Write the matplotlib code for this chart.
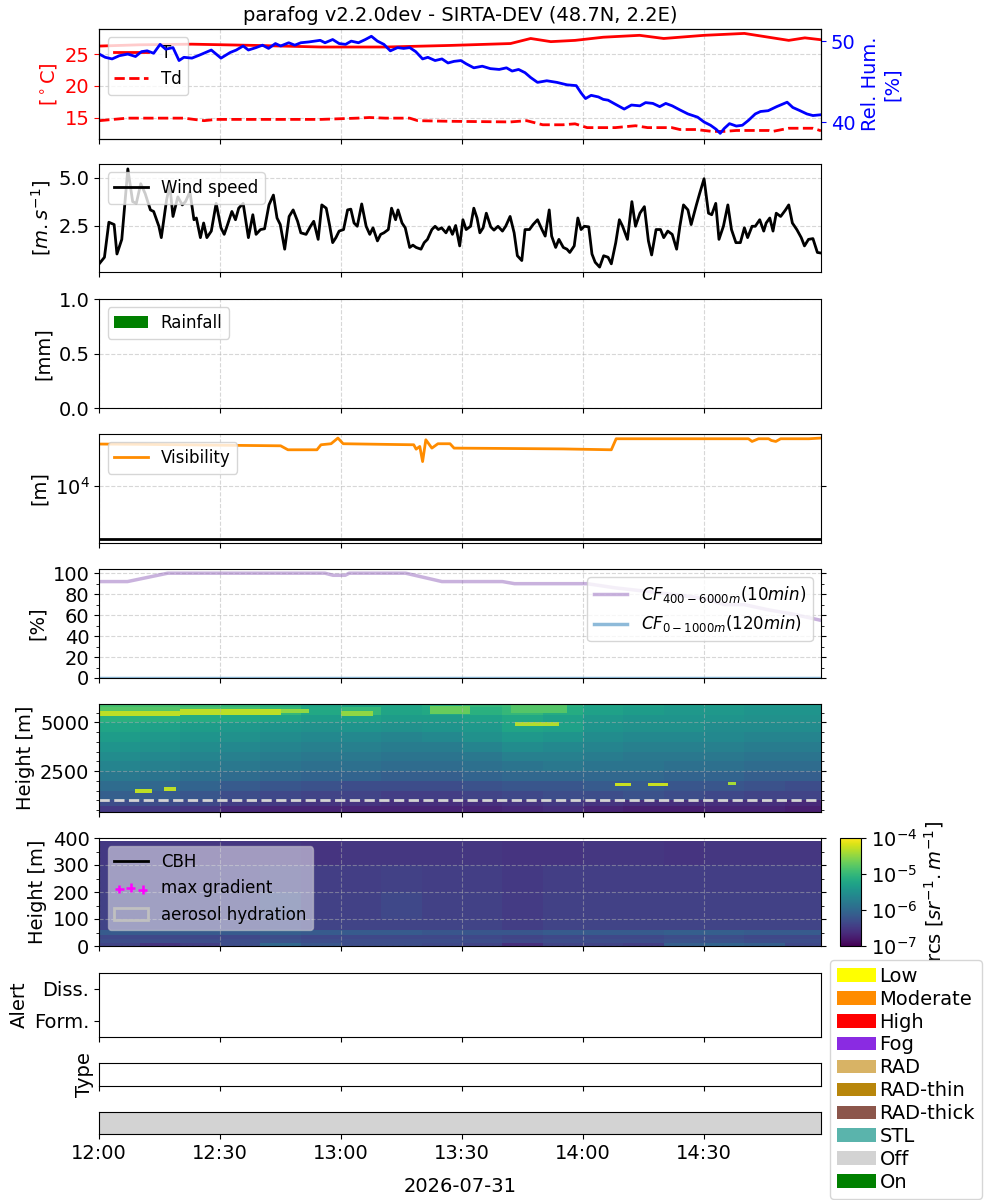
import numpy as np
import pandas as pd
import matplotlib
matplotlib.use("Agg")
import matplotlib.pyplot as plt
import matplotlib.dates as mdates
from matplotlib.colors import LogNorm
from matplotlib.patches import Patch
from matplotlib.ticker import MultipleLocator, NullLocator

plt.rcParams['font.family'] = ['DejaVu Sans']
plt.rcParams['font.size'] = 14

# ---------------------------------------------------------------- data
DAY = "2026-07-31"
TITLE = "parafog v2.2.0dev - SIRTA-DEV (48.7N, 2.2E)"
T_END = 179  # minutes after 12:00

# temperature [degC]
T_min = [0, 10, 23, 39, 55, 71, 87, 102, 107, 112, 118, 125, 134, 140, 150, 160, 166, 171, 175, 179]
T_val = [26.3, 26.5, 26.6, 26.4, 26.15, 26.15, 26.4, 26.7, 27.5, 27.0, 27.2, 27.7, 28.0, 27.5, 28.0, 28.3, 27.7, 27.2, 27.6, 27.3]

# dew point [degC]
Td_min = [0, 7, 21, 26, 29, 55, 64, 67, 71, 77, 79, 87, 102, 106, 110, 115, 118, 121, 128, 133, 136,
          142, 144, 148, 152, 155, 158, 166, 167, 171, 177, 179]
Td_val = [14.5, 14.9, 14.9, 14.5, 14.7, 14.7, 14.9, 15.0, 14.9, 14.9, 14.5, 14.4, 14.3, 14.5, 13.85, 13.85,
          14.0, 13.4, 13.4, 13.7, 13.4, 13.4, 13.1, 13.1, 12.8, 12.8, 12.95, 12.95, 12.8, 13.3, 13.3, 12.9]

# relative humidity [%]
RH_min = [0, 1.5, 3.2, 5, 7.1, 9, 10.5, 11.9, 13.5, 15.1, 16.5, 18.3, 19.8, 21, 23.0, 25, 27.8, 29, 30.2,
          32.5, 34, 35.7, 37, 38.9, 40.5, 42, 43.7, 45, 47, 48.5, 50.0, 52, 54.8, 56, 57.9,
          59.5, 61.1, 62.5, 64.3, 66, 67.5, 69, 70.6, 72.2, 74, 75.5, 77.0, 78.5, 80.2, 81.5, 83.3, 85, 86.5,
          88, 89.7, 91, 92.9, 95, 97, 99.2, 101, 102.4, 104, 105.6, 107, 108.7, 111, 113.5,
          116, 118.3, 119.5, 120.6, 122, 123.8, 125, 126.2, 128, 130.2, 132, 134.1, 135.5, 137.3, 139, 140.5,
          142.1, 144, 146.0, 148.4, 150, 151.6, 153, 154.0, 155, 156.3, 158, 159.5,
          161, 162.7, 164, 165.9, 168, 170.6, 172, 173.8, 175.5, 177.0, 179]
RH_val = [48.4, 48.0, 47.8, 48.2, 48.4, 48.1, 48.7, 48.8, 48.5, 49.6, 49.0, 49.2, 47.6, 48.0, 47.9, 48.3,
          48.9, 48.4, 47.9, 48.6, 48.9, 49.4, 48.9, 49.2, 49.5, 49.1, 49.7, 49.4, 49.8, 49.5, 49.8, 49.9,
          50.1, 49.8, 50.2, 49.7, 49.6, 50.0, 49.8, 50.2, 50.6, 50.0, 49.6, 48.8, 49.2, 49.1, 49.2, 48.7,
          47.8, 48.0, 47.6, 47.8, 47.3, 47.5, 47.6, 47.2, 46.7, 46.9, 46.6, 46.5, 46.7, 46.3, 46.5, 46.1,
          45.5, 44.9, 45.1, 44.9, 44.6, 44.5, 43.6, 42.9, 43.3, 43.1, 42.8, 42.7, 42.2, 41.6, 42.1, 42.0,
          42.4, 42.3, 41.9, 42.3, 42.0, 41.5, 41.0, 40.6, 40.0, 39.6, 39.1, 38.6, 39.2, 39.8, 39.5, 39.6,
          40.2, 41.0, 41.3, 41.4, 41.9, 42.45, 41.8, 41.4, 41.0, 40.8, 40.9]

# wind speed [m/s]
wind_min = [0, 1.3, 2.4, 3.7, 4.4, 5.6, 7.1, 8.3, 9.2, 10.3, 11.4, 12.7, 13.5, 14.8, 15.4, 16.7, 17.5, 18.3,
            19.5, 20.6, 21.4, 22.5, 23.5, 24.1, 25.1, 25.9, 26.7, 27.8, 29.0, 30.2, 31.0, 31.7, 32.9, 33.8,
            34.6, 35.7, 37.0, 38.1, 38.9, 40.0, 41.0, 42.1, 43.2, 44.1, 44.9, 46.0, 47.1, 48.1, 49.2, 50.0,
            51.3, 52.4, 53.2, 54.3, 55.2, 56.3, 57.1, 57.9, 58.7, 59.5, 60.6, 61.6, 62.4, 63.2, 64.0, 65.1,
            66.2, 67.1, 67.9, 69.0, 69.8, 70.6, 71.7, 72.5, 73.5, 74.1, 75.1, 75.9, 77.0, 77.8, 78.6, 79.8,
            80.6, 81.4, 82.5, 83.3, 84.1, 84.9, 86.0, 86.8, 87.6, 88.4, 89.4, 90.2, 91.0, 92.1, 92.9, 93.7,
            94.4, 95.2, 96.0, 97.1, 97.9, 98.9, 100.0, 100.8, 101.9, 102.9, 103.7, 104.8, 105.6, 106.7,
            107.6, 108.7, 109.8, 110.6, 111.6, 112.2, 113.2, 114.0, 115.1, 116.0, 116.7, 117.8, 118.7,
            119.5, 120.3, 121.4, 122.2, 123.0, 124.1, 125.1, 126.2, 127.0, 128.1, 129.0, 129.8, 131.0,
            132.1, 133.0, 134.1, 135.2, 136.2, 137.0, 138.1, 139.2, 140.0, 141.0, 142.1, 143.2, 144.0,
            144.9, 146.0, 146.8, 148.1, 148.9, 150.0, 151.1, 151.9, 152.9, 153.7, 154.8, 155.9, 156.8,
            157.9, 159.0, 160.0, 160.8, 161.9, 162.7, 163.8, 164.8, 165.4, 166.3, 167.1, 167.9, 169.0,
            170.2, 171.0, 171.9, 173.0, 174.1, 174.9, 175.9, 177.0, 178.1, 179.0]
wind_val = [0.53, 0.87, 2.69, 2.57, 1.04, 1.80, 5.46, 3.76, 3.67, 4.69, 4.18, 3.33, 3.25, 2.48, 1.89, 3.84,
            4.61, 2.99, 4.01, 3.59, 3.76, 4.27, 2.82, 2.91, 1.89, 2.65, 1.89, 2.23, 3.67, 2.40, 2.06, 2.48,
            3.25, 2.82, 3.42, 3.67, 1.89, 3.08, 2.06, 2.31, 2.35, 3.59, 4.10, 2.91, 2.57, 1.29, 2.99, 3.33,
            2.74, 2.14, 2.06, 2.48, 2.74, 1.80, 3.59, 3.42, 2.57, 1.63, 1.89, 2.23, 2.31, 3.33, 3.37, 2.65,
            2.48, 3.64, 2.48, 2.06, 2.40, 1.72, 2.06, 2.14, 2.31, 3.42, 2.82, 3.33, 2.65, 2.40, 1.38, 1.50,
            1.38, 1.29, 1.63, 1.80, 2.31, 2.48, 2.31, 2.40, 2.14, 2.45, 2.06, 2.52, 1.46, 2.82, 2.31, 2.48,
            3.42, 2.91, 2.14, 2.40, 3.16, 2.45, 2.28, 2.48, 2.23, 2.48, 2.99, 2.14, 0.95, 0.70, 2.31, 2.31,
            2.57, 2.82, 2.31, 1.97, 3.33, 1.97, 1.38, 1.80, 1.38, 1.29, 1.12, 1.46, 2.91, 2.31, 2.48, 2.45,
            1.04, 0.61, 0.36, 0.95, 0.87, 0.53, 1.63, 2.82, 2.48, 1.80, 3.76, 2.48, 3.16, 3.50, 1.72, 0.99,
            2.31, 2.31, 1.89, 2.23, 2.06, 1.29, 2.48, 3.59, 3.33, 2.57, 3.59, 4.18, 4.95, 3.16, 3.08, 3.67,
            1.80, 2.48, 3.59, 2.31, 1.63, 1.63, 2.40, 1.89, 2.48, 2.48, 2.82, 2.23, 2.65, 2.91, 2.23, 3.16,
            2.99, 3.33, 3.59, 2.65, 2.31, 1.89, 1.46, 1.80, 1.84, 1.12, 1.09]

# rainfall [mm] per 10 min
rain_min = [0, 10, 20, 30, 40, 50, 60, 70, 80, 90, 100, 110, 120, 130, 140, 150, 160, 170]
rain_val = [0.0, 0.0, 0.0, 0.0, 0.0, 0.0, 0.0, 0.0, 0.0, 0.0, 0.0, 0.0, 0.0, 0.0, 0.0, 0.0, 0.0, 0.0]

# visibility [m]
vis_min = [0, 10, 20, 30, 45, 46.8, 54, 55, 57.5, 59.2, 60.5, 70, 78, 78.6, 79.5, 80.2, 81, 82.5, 84, 87, 88,
           100, 115, 127, 128.2, 161, 161.9, 163.5, 166, 166.7, 167.8, 169, 176, 179]
vis_val = [17260, 17200, 17100, 17000, 16870, 16020, 16020, 17100, 17330, 18660, 17330, 17200, 17100, 16150,
           16730, 13740, 18250, 16370, 17330, 17330, 16370, 16300, 16200, 16020, 18490, 18490, 17850, 18490,
           18490, 18080, 17850, 18490, 18490, 18660]
VIS_THRESHOLD = 5000

# cloud fraction [%]
cf_hi_min = [0, 7, 17, 56, 58, 61, 62, 76, 85, 100, 103, 121, 128, 135, 146, 150, 155, 160, 166, 172, 179]
cf_hi_val = [92, 92, 100, 100, 98, 98, 100, 100, 92, 92, 90, 90, 86, 83, 78, 76, 70, 70, 65, 61, 55]
cf_lo_min = [0, 179]
cf_lo_val = [0, 0]

# lidar rcs, upper panel (400-5950 m), log10 values, rows bottom -> top, 10-min columns
up_h_edges = [400, 700, 1000, 1500, 2000, 2500, 3000, 3500, 4000, 4500, 5000, 5400, 5800, 5950]
up_t_edges = [0, 10, 20, 30, 40, 50, 60, 70, 80, 90, 100, 110, 120, 130, 140, 150, 160, 170, 180]
up_log_rcs = [
    [-6.5, -6.5, -6.55, -6.65, -6.7, -6.7, -6.7, -6.7, -6.7, -6.7, -6.65, -6.6, -6.7, -6.75, -6.75, -6.7, -6.7, -6.75],
    [-6.3, -6.3, -6.35, -6.45, -6.5, -6.55, -6.55, -6.6, -6.6, -6.6, -6.55, -6.5, -6.55, -6.6, -6.6, -6.6, -6.6, -6.65],
    [-6.1, -6.15, -6.2, -6.3, -6.35, -6.4, -6.4, -6.45, -6.45, -6.4, -6.35, -6.3, -6.3, -6.25, -6.3, -6.35, -6.4, -6.4],
    [-5.95, -6.0, -6.05, -6.15, -6.2, -6.25, -6.3, -6.3, -6.3, -6.25, -6.2, -6.2, -6.15, -6.15, -6.2, -6.2, -6.25, -6.3],
    [-5.8, -5.85, -5.9, -5.95, -6.0, -6.05, -6.05, -6.1, -6.1, -6.05, -6.0, -6.0, -6.0, -6.0, -6.05, -6.05, -6.1, -6.1],
    [-5.65, -5.7, -5.75, -5.8, -5.85, -5.9, -5.9, -5.95, -5.95, -5.9, -5.85, -5.8, -5.85, -5.85, -5.9, -5.9, -5.95, -5.95],
    [-5.55, -5.6, -5.65, -5.7, -5.75, -5.8, -5.8, -5.85, -5.85, -5.8, -5.7, -5.7, -5.75, -5.8, -5.8, -5.8, -5.85, -5.85],
    [-5.45, -5.5, -5.55, -5.6, -5.65, -5.7, -5.7, -5.75, -5.75, -5.65, -5.55, -5.6, -5.65, -5.7, -5.7, -5.7, -5.75, -5.75],
    [-5.35, -5.4, -5.45, -5.5, -5.55, -5.6, -5.6, -5.65, -5.6, -5.5, -5.4, -5.45, -5.55, -5.6, -5.6, -5.6, -5.65, -5.65],
    [-5.25, -5.3, -5.35, -5.4, -5.45, -5.5, -5.45, -5.5, -5.45, -5.4, -5.25, -5.3, -5.45, -5.5, -5.5, -5.55, -5.55, -5.55],
    [-5.1, -5.1, -5.15, -5.2, -5.25, -5.35, -5.3, -5.35, -5.35, -5.3, -5.2, -5.3, -5.4, -5.45, -5.45, -5.45, -5.5, -5.5],
    [-4.8, -4.8, -4.85, -4.9, -5.0, -5.2, -5.0, -5.25, -5.2, -5.1, -5.0, -5.15, -5.3, -5.35, -5.4, -5.4, -5.45, -5.45],
    [-4.9, -4.9, -4.95, -5.0, -5.1, -5.25, -5.25, -5.25, -5.15, -5.0, -4.95, -5.1, -5.25, -5.3, -5.35, -5.35, -5.4, -5.4],
]
# strong backscatter layers: (start min, end min, base m, top m, log10 rcs)
layer_start = [0, 20, 45, 60, 82, 102, 103, 9.5, 16, 128.5, 136.5, 156.5]
layer_end = [20, 45, 52, 68, 92, 116, 114, 13.5, 19, 132.5, 141, 158.5]
layer_base = [5350, 5400, 5500, 5350, 5450, 5500, 4800, 1400, 1500, 1730, 1760, 1800]
layer_top = [5600, 5700, 5700, 5600, 5850, 5900, 5050, 1600, 1700, 1900, 1900, 1950]
layer_log = [-4.3, -4.3, -4.5, -4.5, -4.7, -4.8, -4.35, -4.3, -4.3, -4.25, -4.25, -4.4]

# lidar rcs, lower panel (0-390 m)
lo_h_edges = [0, 10, 25, 40, 60, 100, 200, 300, 390]
lo_t_edges = up_t_edges
lo_log_rcs = [
    [-6.4, -6.55, -6.45, -6.3, -6.0, -6.2, -6.3, -6.3, -6.35, -6.4, -6.6, -6.4, -6.4, -6.45, -6.1, -6.05, -6.1, -6.35],
    [-6.3, -6.3, -6.3, -6.3, -6.25, -6.3, -6.3, -6.3, -6.3, -6.3, -6.35, -6.3, -6.3, -6.3, -6.25, -6.25, -6.3, -6.3],
    [-6.35, -6.35, -6.35, -6.35, -6.3, -6.35, -6.35, -6.35, -6.35, -6.35, -6.4, -6.35, -6.35, -6.35, -6.3, -6.3, -6.35, -6.35],
    [-6.15, -6.15, -6.15, -6.15, -6.1, -6.15, -6.15, -6.15, -6.2, -6.2, -6.2, -6.15, -6.15, -6.15, -6.1, -6.1, -6.15, -6.15],
    [-6.4, -6.4, -6.4, -6.4, -6.35, -6.4, -6.4, -6.4, -6.4, -6.4, -6.45, -6.4, -6.4, -6.4, -6.4, -6.4, -6.4, -6.4],
    [-6.42, -6.42, -6.42, -6.42, -6.3, -6.42, -6.42, -6.35, -6.42, -6.42, -6.48, -6.42, -6.42, -6.42, -6.42, -6.42, -6.42, -6.42],
    [-6.45, -6.45, -6.45, -6.45, -6.42, -6.45, -6.45, -6.42, -6.45, -6.45, -6.5, -6.45, -6.45, -6.45, -6.45, -6.45, -6.45, -6.45],
    [-6.5, -6.5, -6.52, -6.52, -6.52, -6.55, -6.52, -6.52, -6.52, -6.52, -6.55, -6.55, -6.52, -6.52, -6.55, -6.52, -6.52, -6.52],
]

# fog product states
state_start = [0]
state_end = [179]
state_name = ["Off"]

legend_labels = ["Low", "Moderate", "High", "Fog", "RAD", "RAD-thin", "RAD-thick", "STL", "Off", "On"]
legend_colors = ["yellow", "darkorange", "red", "blueviolet", "#d8b365", "darkgoldenrod", "#8c564b",
                 "#5ab4ac", "lightgray", "green"]

# ---------------------------------------------------------------- helpers
T0 = pd.Timestamp(DAY + " 12:00")


def tt(minutes):
    return mdates.date2num(T0 + pd.to_timedelta(np.asarray(minutes, dtype=float), unit="min"))


fig = plt.figure(figsize=(10, 12), dpi=100)
H = 1200.0
LEFT, WIDTH = 0.0992, 0.7218


def ax_at(top_px, bot_px, **kw):
    return fig.add_axes([LEFT, 1 - bot_px / H, WIDTH, (bot_px - top_px) / H], **kw)


ax_t = ax_at(29, 139)
ax_w = ax_at(164, 272, sharex=ax_t)
ax_r = ax_at(299, 408, sharex=ax_t)
ax_v = ax_at(434, 543, sharex=ax_t)
ax_c = ax_at(569, 678, sharex=ax_t)
ax_hu = ax_at(704, 812, sharex=ax_t)
ax_hl = ax_at(838, 946, sharex=ax_t)
ax_a = ax_at(973, 1037, sharex=ax_t)
ax_ty = ax_at(1063, 1086, sharex=ax_t)
ax_s = ax_at(1112, 1134, sharex=ax_t)
cax = fig.add_axes([0.840, 1 - 946 / H, 0.021, 108 / H])

GRID = dict(linestyle='--', linewidth=0.8, alpha=0.5)
LEG = dict(fontsize=12)

# temperature / humidity
ax_t.plot(tt(T_min), T_val, color='red', lw=2, label='T')
ax_t.plot(tt(Td_min), Td_val, color='red', lw=2, ls='--', label='Td')
ax_t.set_ylim(11.6, 29.0)
ax_t.yaxis.set_major_locator(MultipleLocator(5))
ax_t.set_ylabel(r'[$^\circ$C]', color='red')
ax_t.tick_params(axis='y', colors='red')
ax_t.grid(True, **GRID)
ax_t.legend(loc='upper left', **LEG)
ax_t.set_title(TITLE, fontsize=14)
ax_rh = ax_t.twinx()
ax_rh.plot(tt(RH_min), RH_val, color='blue', lw=2)
ax_rh.set_ylim(37.9, 51.5)
ax_rh.yaxis.set_major_locator(MultipleLocator(10))
ax_rh.set_ylabel('Rel. Hum.\n[%]', color='blue')
ax_rh.tick_params(axis='y', colors='blue')

# wind
ax_w.plot(tt(wind_min), wind_val, color='black', lw=2, label='Wind speed')
ax_w.yaxis.set_major_locator(MultipleLocator(2.5))
ax_w.set_ylabel(r'[$m.s^{-1}$]')
ax_w.grid(True, **GRID)
ax_w.legend(loc='upper left', **LEG)

# rain
ax_r.bar(tt(rain_min), rain_val, width=10 / 1440, align='edge', color='green', label='Rainfall')
ax_r.set_ylim(0, 1)
ax_r.yaxis.set_major_locator(MultipleLocator(0.5))
ax_r.set_ylabel('[mm]')
ax_r.grid(True, **GRID)
ax_r.legend(loc='upper left', **LEG)

# visibility
ax_v.plot(tt(vis_min), vis_val, color='darkorange', lw=2, label='Visibility')
ax_v.axhline(VIS_THRESHOLD, color='black', lw=2)
ax_v.set_yscale('log')
ax_v.set_ylim(4764, 19670)
ax_v.yaxis.set_minor_locator(NullLocator())
ax_v.tick_params(axis='y', which='both', right=True)
ax_v.set_ylabel('[m]')
ax_v.grid(True, **GRID)
ax_v.legend(loc='upper left', **LEG)

# cloud fraction
ax_c.plot(tt(cf_hi_min), cf_hi_val, color='tab:purple', alpha=0.5, lw=2.5,
          label=r'$CF_{400-6000m}(10min)$')
ax_c.plot(tt(cf_lo_min), cf_lo_val, color='tab:blue', alpha=0.5, lw=2.5,
          label=r'$CF_{0-1000m}(120min)$')
ax_c.set_ylim(0, 104)
ax_c.yaxis.set_major_locator(MultipleLocator(20))
ax_c.yaxis.set_minor_locator(MultipleLocator(10))
ax_c.tick_params(axis='y', which='both', right=True)
ax_c.set_ylabel('[%]')
ax_c.grid(True, **GRID)
ax_c.legend(loc='upper right', **LEG)

# lidar upper
norm = LogNorm(vmin=1e-7, vmax=1e-4)
f_t_edges = np.arange(0, 181, 1.0)
f_h_edges = np.arange(400, 5951, 50.0)
f_tc = 0.5 * (f_t_edges[:-1] + f_t_edges[1:])
f_hc = 0.5 * (f_h_edges[:-1] + f_h_edges[1:])
ti = np.searchsorted(up_t_edges, f_tc) - 1
hi = np.searchsorted(up_h_edges, f_hc) - 1
Zu = np.asarray(up_log_rcs)[hi][:, ti]
TT, HH = np.meshgrid(f_tc, f_hc)
for s, e, b, tp, v in zip(layer_start, layer_end, layer_base, layer_top, layer_log):
    Zu[(TT >= s) & (TT < e) & (HH >= b) & (HH < tp)] = v
ax_hu.pcolormesh(tt(f_t_edges), f_h_edges, 10.0 ** Zu, cmap='viridis', norm=norm, shading='flat')
ax_hu.axhline(1000, color='lightgray', ls='--', lw=2)
ax_hu.set_ylim(400, 5950)
ax_hu.yaxis.set_major_locator(MultipleLocator(2500))
ax_hu.yaxis.set_minor_locator(MultipleLocator(500))
ax_hu.tick_params(axis='y', which='both', right=True)
ax_hu.set_ylabel('Height [m]')
ax_hu.grid(True, **GRID)

# lidar lower
mesh = ax_hl.pcolormesh(tt(lo_t_edges), lo_h_edges, 10.0 ** np.asarray(lo_log_rcs), cmap='viridis',
                        norm=norm, shading='flat')
ax_hl.set_ylim(0, 400)
ax_hl.yaxis.set_major_locator(MultipleLocator(100))
ax_hl.yaxis.set_minor_locator(MultipleLocator(50))
ax_hl.tick_params(axis='y', which='both', right=True)
ax_hl.set_ylabel('Height [m]')
ax_hl.grid(True, **GRID)
h_cbh, = ax_hl.plot([], [], color='black', lw=2, label='CBH')
h_grad = ax_hl.scatter([], [], marker='+', color='magenta', s=40, linewidths=1.8, label='max gradient')
h_aer = Patch(facecolor='none', edgecolor='silver', lw=2, label='aerosol hydration')
ax_hl.legend(handles=[h_cbh, h_grad, h_aer], loc='upper left', scatterpoints=3, framealpha=0.5, **LEG)
cb = fig.colorbar(mesh, cax=cax)
cb.set_ticks([1e-7, 1e-6, 1e-5, 1e-4])
cb.ax.yaxis.set_minor_locator(NullLocator())
cb.set_label(r'rcs [$sr^{-1}.m^{-1}$]')

# alert
ax_a.set_ylim(-0.5, 1.5)
ax_a.set_yticks([0, 1])
ax_a.set_yticklabels(['Form.', 'Diss.'])
ax_a.set_ylabel('Alert')

# type
ax_ty.set_yticks([])
ax_ty.set_ylabel('Type')

# state
state_color = dict(zip(legend_labels, legend_colors))
for s, e, n in zip(state_start, state_end, state_name):
    ax_s.axvspan(tt(s), tt(e), color=state_color[n], lw=0)
ax_s.set_yticks([])

# shared x axis
ax_t.set_xlim(tt(0), tt(T_END))
ax_s.xaxis.set_major_locator(mdates.MinuteLocator(byminute=[0, 30]))
ax_s.xaxis.set_major_formatter(mdates.DateFormatter('%H:%M'))
for a in [ax_t, ax_w, ax_r, ax_v, ax_c, ax_hu, ax_hl, ax_a, ax_ty]:
    a.tick_params(axis='x', labelbottom=False)
ax_s.set_xlabel(DAY, labelpad=10)

fig.align_ylabels([ax_t, ax_w, ax_r, ax_v, ax_c, ax_hu, ax_hl, ax_a, ax_ty])

handles = [Patch(facecolor=c, label=l) for l, c in zip(legend_labels, legend_colors)]
fig.legend(handles=handles, loc='upper left', bbox_to_anchor=(0.830, 1 - 960 / H),
           bbox_transform=fig.transFigure, fontsize=14, labelspacing=0.2, handletextpad=0.2,
           borderpad=0.35, borderaxespad=0, handlelength=2.0)

fig.savefig('out.png', dpi=100)
